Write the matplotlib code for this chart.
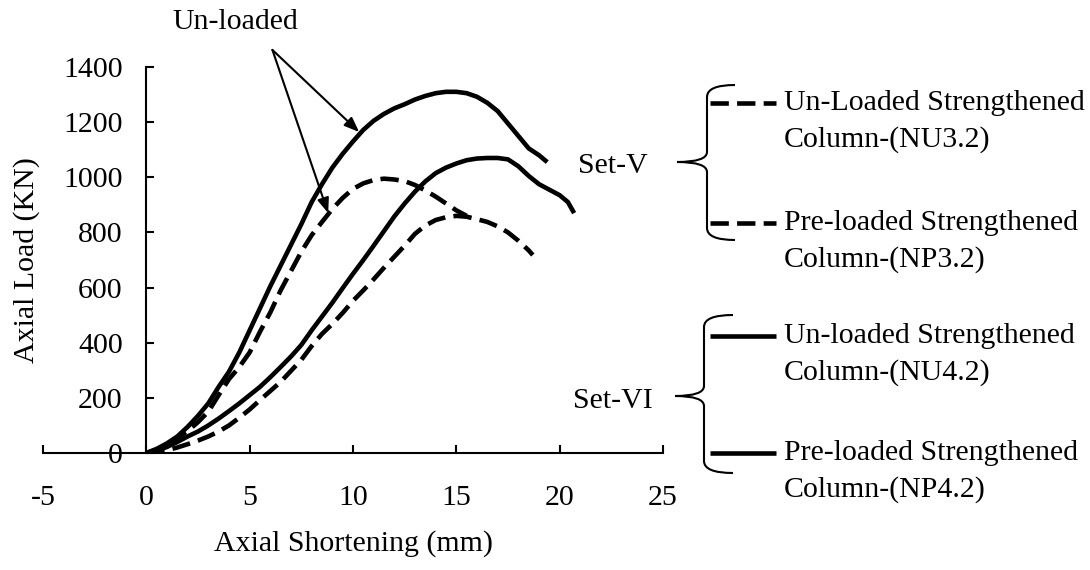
import matplotlib
matplotlib.use("Agg")
import matplotlib.pyplot as plt
from matplotlib.path import Path
from matplotlib.patches import PathPatch
from matplotlib.lines import Line2D

plt.rcParams['font.family'] = ['Liberation Serif', 'DejaVu Serif']
plt.rcParams['axes.unicode_minus'] = False

# ---- data ----
x_nu42 = [0, 0.5, 1.0, 1.5, 2.0, 2.5, 3.0, 3.5, 4.0, 4.5, 5.0, 5.5, 6.0, 6.5, 7.0, 7.5,
          8.0, 8.5, 9.0, 9.5, 10.0, 10.5, 11.0, 11.5, 12.0, 12.5, 13.0, 13.5, 14.0, 14.5,
          15.0, 15.5, 16.0, 16.5, 17.0, 17.5, 18.0, 18.5, 19.0, 19.4]
y_nu42 = [0, 15, 35, 60, 95, 135, 180, 240, 295, 365, 445, 525, 605, 680, 755, 830,
          910, 975, 1035, 1085, 1130, 1172, 1205, 1230, 1250, 1265, 1282, 1295, 1305, 1310,
          1310, 1305, 1292, 1270, 1240, 1195, 1150, 1105, 1080, 1055]

x_nu32 = [0, 0.5, 1.0, 1.5, 2.0, 2.5, 3.0, 3.5, 4.0, 4.5, 5.0, 5.5, 6.0, 6.5, 7.0, 7.5,
          8.0, 8.5, 9.0, 9.5, 10.0, 10.5, 11.0, 11.5, 12.0, 12.5, 13.0, 13.5, 14.0, 14.5,
          15.0, 15.5]
y_nu32 = [0, 12, 30, 55, 80, 112, 150, 210, 268, 312, 365, 440, 510, 590, 660, 730,
          790, 838, 885, 925, 958, 978, 990, 995, 992, 986, 972, 952, 930, 905,
          880, 860]

x_np42 = [0, 0.5, 1.0, 1.5, 2.0, 2.5, 3.0, 3.5, 4.0, 4.5, 5.0, 5.5, 6.0, 6.5, 7.0, 7.5,
          8.0, 8.5, 9.0, 9.5, 10.0, 10.5, 11.0, 11.5, 12.0, 12.5, 13.0, 13.5, 14.0, 14.5,
          15.0, 15.5, 16.0, 16.5, 17.0, 17.5, 18.0, 18.5, 19.0, 19.5, 20.0, 20.4, 20.7]
y_np42 = [0, 8, 22, 40, 60, 78, 100, 125, 152, 180, 210, 240, 275, 312, 350, 392,
          445, 495, 545, 598, 650, 700, 752, 805, 858, 905, 948, 985, 1015, 1035,
          1050, 1062, 1068, 1070, 1070, 1065, 1040, 1005, 975, 955, 935, 910, 870]

x_np32 = [0, 0.5, 1.0, 1.5, 2.0, 2.5, 3.0, 3.5, 4.0, 4.5, 5.0, 5.5, 6.0, 6.5, 7.0, 7.5,
          8.0, 8.5, 9.0, 9.5, 10.0, 10.5, 11.0, 11.5, 12.0, 12.5, 13.0, 13.5, 14.0, 14.5,
          15.0, 15.5, 16.0, 16.5, 17.0, 17.5, 18.0, 18.5, 18.7]
y_np32 = [0, 3, 10, 20, 32, 45, 60, 78, 100, 128, 158, 192, 225, 258, 298, 338,
          388, 432, 468, 508, 552, 590, 630, 672, 712, 752, 795, 825, 845, 855,
          860, 857, 848, 838, 822, 800, 770, 735, 718]

x_ticks = [-5, 0, 5, 10, 15, 20, 25]
y_ticks = [0, 200, 400, 600, 800, 1000, 1200, 1400]

legend_lines1 = ["Un-Loaded Strengthened", "Pre-loaded Strengthened",
                 "Un-loaded Strengthened", "Pre-loaded Strengthened"]
legend_lines2 = ["Column-(NU3.2)", "Column-(NP3.2)", "Column-(NU4.2)", "Column-(NP4.2)"]
set_labels = ["Set-V", "Set-VI"]

W, H = 1090, 570
FS = 21.5

fig = plt.figure(figsize=(W / 100, H / 100), dpi=100)
ax = fig.add_axes([43 / W, 1 - 453 / H, (663 - 43) / W, (453 - 67) / H])

dash = (0, (4, 1.8))
LW = 3.3
ax.plot(x_nu42, y_nu42, color='black', lw=LW, solid_capstyle='butt')
ax.plot(x_np42, y_np42, color='black', lw=LW, solid_capstyle='butt')
ax.plot(x_nu32, y_nu32, color='black', lw=LW, linestyle=dash)
ax.plot(x_np32, y_np32, color='black', lw=LW, linestyle=dash)

ax.set_xlim(-5, 25)
ax.set_ylim(0, 1400)
ax.set_xticks(x_ticks)
ax.set_yticks(y_ticks)
ax.spines['top'].set_visible(False)
ax.spines['right'].set_visible(False)
ax.spines['left'].set_position(('data', 0))
for s in ('left', 'bottom'):
    ax.spines[s].set_linewidth(1.5)
ax.tick_params(axis='x', direction='in', length=6, width=1.5, pad=23, labelsize=FS)
ax.tick_params(axis='y', direction='in', length=6, width=1.5, pad=17, labelsize=FS)

ax.set_xlabel("Axial Shortening (mm)", fontsize=FS)
ax.xaxis.set_label_coords(0.5, (453 - 530) / 386)
ax.set_ylabel("Axial Load (KN)", fontsize=FS)
ax.yaxis.set_label_coords((40 - 43) / 620, 0.5)

# Annotation arrows
arrow_kw = dict(arrowstyle='-|>,head_length=0.9,head_width=0.35', color='black', lw=1.5,
                shrinkA=0, shrinkB=0)
ax.annotate("", xy=(10.3, 1164), xytext=(6.1, 1462), arrowprops=arrow_kw,
            annotation_clip=False)
ax.annotate("", xy=(8.8, 870), xytext=(6.1, 1462), arrowprops=arrow_kw,
            annotation_clip=False)
ax.text(4.3, 1565, "Un-loaded", fontsize=FS, ha='center', va='center', clip_on=False)


def fx(px):
    return px / W


def fy(py):
    return 1 - py / H


def brace(xv, ytop, ytip, ybot, xtip, xend):
    verts = [(xend, ytop), (xv, ytop), (xv, ytop + 12),
             (xv, ytip - 10),
             (xv, ytip), (xtip, ytip),
             (xv, ytip), (xv, ytip + 10),
             (xv, ybot - 12),
             (xv, ybot), (xend, ybot)]
    codes = [Path.MOVETO, Path.CURVE3, Path.CURVE3,
             Path.LINETO,
             Path.CURVE3, Path.CURVE3,
             Path.CURVE3, Path.CURVE3,
             Path.LINETO,
             Path.CURVE3, Path.CURVE3]
    verts = [(fx(a), fy(b)) for a, b in verts]
    p = PathPatch(Path(verts, codes), transform=fig.transFigure, fill=False,
                  lw=1.5, edgecolor='black')
    fig.add_artist(p)


brace(707, 85, 162, 240, 677, 735)
brace(704, 315, 396, 473, 675, 733)

fig.text(fx(613), fy(166), set_labels[0], fontsize=FS, ha='center', va='center')
fig.text(fx(613), fy(401), set_labels[1], fontsize=FS, ha='center', va='center')

leg_y = [103, 223, 336, 453]
leg_styles = [dash, dash, '-', '-']
for yy, ls, l1, l2 in zip(leg_y, leg_styles, legend_lines1, legend_lines2):
    fig.add_artist(Line2D([fx(710), fx(776)], [fy(yy), fy(yy)], color='black', lw=LW,
                          linestyle=ls, transform=fig.transFigure, solid_capstyle='butt'))
    fig.text(fx(784), fy(yy), l1, fontsize=FS, ha='left', va='center')
    fig.text(fx(784), fy(yy + 37), l2, fontsize=FS, ha='left', va='center')

fig.savefig("out.png", dpi=100)
